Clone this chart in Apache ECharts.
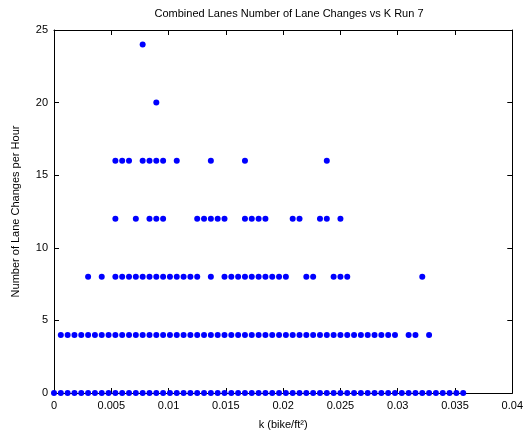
<!DOCTYPE html>
<html>
<head>
<meta charset="utf-8">
<script src="https://cdn.jsdelivr.net/npm/echarts@6/dist/echarts.min.js"></script>
<style>html,body{margin:0;padding:0;background:#fff}#c{width:526px;height:436px}</style>
</head>
<body>
<div id="c"></div>
<script>
// Lane changes per hour (row values) and the k values (bike/ft^2) at which each occurs
var kAt0 = [0, 0.000595, 0.00119, 0.001786, 0.002381, 0.002976, 0.003571, 0.004167, 0.004762, 0.005357,
  0.005952, 0.006548, 0.007143, 0.007738, 0.008333, 0.008929, 0.009524, 0.010119, 0.010714, 0.01131,
  0.011905, 0.0125, 0.013095, 0.01369, 0.014286, 0.014881, 0.015476, 0.016071, 0.016667, 0.017262,
  0.017857, 0.018452, 0.019048, 0.019643, 0.020238, 0.020833, 0.021429, 0.022024, 0.022619, 0.023214,
  0.02381, 0.024405, 0.025, 0.025595, 0.02619, 0.026786, 0.027381, 0.027976, 0.028571, 0.029167,
  0.029762, 0.030357, 0.030952, 0.031548, 0.032143, 0.032738, 0.033333, 0.033929, 0.034524, 0.035119,
  0.035714];
var kAt4 = [0.000595, 0.00119, 0.001786, 0.002381, 0.002976, 0.003571, 0.004167, 0.004762, 0.005357,
  0.005952, 0.006548, 0.007143, 0.007738, 0.008333, 0.008929, 0.009524, 0.010119, 0.010714, 0.01131,
  0.011905, 0.0125, 0.013095, 0.01369, 0.014286, 0.014881, 0.015476, 0.016071, 0.016667, 0.017262,
  0.017857, 0.018452, 0.019048, 0.019643, 0.020238, 0.020833, 0.021429, 0.022024, 0.022619, 0.023214,
  0.02381, 0.024405, 0.025, 0.025595, 0.02619, 0.026786, 0.027381, 0.027976, 0.028571, 0.029167,
  0.029762, 0.030952, 0.031548, 0.032738];
var kAt8 = [0.002976, 0.004167, 0.005357, 0.005952, 0.006548, 0.007143, 0.007738, 0.008333, 0.008929,
  0.009524, 0.010119, 0.010714, 0.01131, 0.011905, 0.0125, 0.01369, 0.014881, 0.015476, 0.016071,
  0.016667, 0.017262, 0.017857, 0.018452, 0.019048, 0.019643, 0.020238, 0.022024, 0.022619, 0.024405,
  0.025, 0.025595, 0.032143];
var kAt12 = [0.005357, 0.007143, 0.008333, 0.008929, 0.009524, 0.0125, 0.013095, 0.01369, 0.014286,
  0.014881, 0.016667, 0.017262, 0.017857, 0.018452, 0.020833, 0.021429, 0.023214, 0.02381, 0.025];
var kAt16 = [0.005357, 0.005952, 0.006548, 0.007738, 0.008333, 0.008929, 0.009524, 0.010714, 0.01369,
  0.016667, 0.02381];
var kAt20 = [0.008929];
var kAt24 = [0.007738];

var rowValues = [0, 4, 8, 12, 16, 20, 24];
var rowKs = [kAt0, kAt4, kAt8, kAt12, kAt16, kAt20, kAt24];

var xTicks = [0, 0.005, 0.01, 0.015, 0.02, 0.025, 0.03, 0.035, 0.04];
var yTicks = [0, 5, 10, 15, 20, 25];

var points = [];
rowKs.forEach(function (ks, r) {
  ks.forEach(function (k) { points.push([k, rowValues[r]]); });
});

var font = 'Liberation Sans, Arial, Helvetica, sans-serif';
var axisLine = { show: true, onZero: false, lineStyle: { color: '#000', width: 1 } };
var tick = { show: true, inside: true, length: 5, lineStyle: { color: '#000' } };

var chart = echarts.init(document.getElementById('c'), null, { renderer: 'canvas' });
chart.setOption({
  animation: false,
  backgroundColor: '#fff',
  title: {
    text: 'Combined Lanes Number of Lane Changes vs K Run 7',
    left: 284, top: 3, textAlign: 'center',
    textStyle: { fontFamily: font, fontSize: 11, fontWeight: 'normal', color: '#000' }
  },
  grid: { left: 54, right: 13, top: 30, bottom: 43, containLabel: false },
  xAxis: [{
    type: 'value', min: xTicks[0], max: xTicks[xTicks.length - 1], interval: 0.005,
    position: 'bottom',
    axisLine: axisLine, axisTick: tick, splitLine: { show: false },
    axisLabel: { color: '#000', fontFamily: font, fontSize: 11, margin: 7,
      formatter: function (v) { return String(+v.toFixed(3)); } },
    name: 'k (bike/ft²)', nameLocation: 'middle', nameGap: 26,
    nameTextStyle: { color: '#000', fontFamily: font, fontSize: 11 }
  }, {
    type: 'value', min: xTicks[0], max: xTicks[xTicks.length - 1], interval: 0.005,
    position: 'top',
    axisLine: axisLine, axisTick: tick, splitLine: { show: false },
    axisLabel: { show: false }
  }],
  yAxis: [{
    type: 'value', min: yTicks[0], max: yTicks[yTicks.length - 1], interval: 5,
    position: 'left',
    axisLine: axisLine, axisTick: tick, splitLine: { show: false },
    axisLabel: { color: '#000', fontFamily: font, fontSize: 11, margin: 6 },
    name: 'Number of Lane Changes per Hour', nameLocation: 'middle', nameGap: 33,
    nameTextStyle: { color: '#000', fontFamily: font, fontSize: 11 }
  }, {
    type: 'value', min: yTicks[0], max: yTicks[yTicks.length - 1], interval: 5,
    position: 'right',
    axisLine: axisLine, axisTick: tick, splitLine: { show: false },
    axisLabel: { show: false }
  }],
  series: [{
    type: 'scatter',
    xAxisIndex: 0, yAxisIndex: 0,
    data: points,
    symbol: 'circle',
    symbolSize: 6,
    itemStyle: { color: '#0000ff', opacity: 1 },
    clip: false,
    z: 5
  }]
});
</script>
</body>
</html>
